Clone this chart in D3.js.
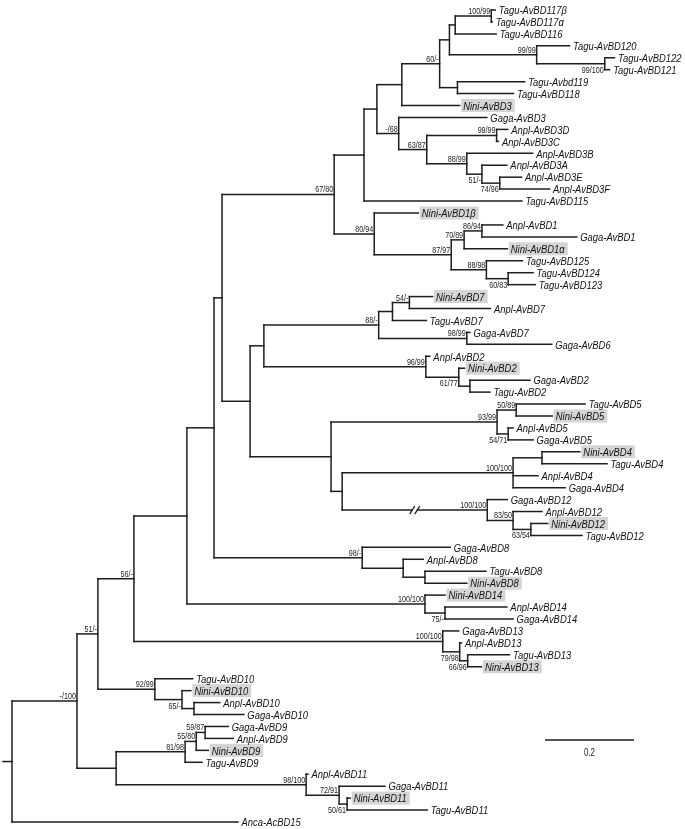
<!DOCTYPE html>
<html>
<head>
<meta charset="utf-8">
<script src="https://cdn.jsdelivr.net/npm/d3@7"></script>
<style>
  html, body { margin: 0; padding: 0; background: #fff; }
  svg { display: block; filter: grayscale(1); }
  .leaf { font-family: "Liberation Sans", Arial, sans-serif; font-style: italic; font-size: 11.8px; fill: #111; }
  .support { font-family: "Liberation Sans", Arial, sans-serif; font-size: 9px; fill: #222; }
  .scale { font-family: "Liberation Sans", Arial, sans-serif; font-size: 10px; fill: #222; }
</style>
</head>
<body>
<svg id="chart" width="685" height="829"></svg>
<script>
// ---------------- DATA (Newick clades; branch lengths in substitutions/site, internal labels = bootstrap NJ/ML) ----------------
const cladeAvBD3 =
  "((((((((Tagu-AvBD117β:0.009,Tagu-AvBD117α:0.002)100/99:0.081,Tagu-AvBD116:0.092):0.013," +
  "(Tagu-AvBD120:0.074,(Tagu-AvBD122:0.022,Tagu-AvBD121:0.011)99/100:0.153)99/99:0.196):0.022," +
  "(Tagu-Avbd119:0.151,Tagu-AvBD118:0.126):0.040)60/-:0.085,Nini-AvBD3:0.130):0.056," +
  "(Gaga-AvBD3:0.198,((Anpl-AvBD3D:0.025,Anpl-AvBD3C:0.004)99/99:0.157," +
  "(Anpl-AvBD3B:0.148,(Anpl-AvBD3A:0.056,(Anpl-AvBD3E:0.049,Anpl-AvBD3F:0.112)74/96:0.040)51/-:0.034)88/99:0.090)63/87:0.063)-/68:0.049):0.029," +
  "Tagu-AvBD115:0.355):0.067)";
const cladeAvBD1 =
  "(Nini-AvBD1β:0.099,(((Anpl-AvBD1:0.047,Gaga-AvBD1:0.213)86/94:0.040,Nini-AvBD1α:0.097)70/89:0.029," +
  "(Tagu-AvBD125:0.081,(Tagu-AvBD124:0.056,Tagu-AvBD123:0.061)60/83:0.049)88/98:0.079)87/97:0.173)80/94:0.090";
const cladeAvBD7_2 =
  "((((Nini-AvBD7:0.052,Anpl-AvBD7:0.182)54/-:0.038,Tagu-AvBD7:0.076):0.031,(Gaga-AvBD7:0.007,Gaga-AvBD6:0.191)98/99:0.198)88/-:0.258," +
  "(Anpl-AvBD2:0.009,(Nini-AvBD2:0.013,(Gaga-AvBD2:0.135,Tagu-AvBD2:0.045):0.025)61/77:0.074)96/99:0.364):0.031";
const cladeAvBD5_4_12 =
  "(((Tagu-AvBD5:0.155,Nini-AvBD5:0.081)50/89:0.043,(Anpl-AvBD5:0.011,Gaga-AvBD5:0.056)54/71:0.025)93/99:0.373," +
  "(((Nini-AvBD4:0.085,Tagu-AvBD4:0.146):0.065,Anpl-AvBD4:0.056,Gaga-AvBD4:0.117)100/100:0.384," +
  "(Gaga-AvBD12:0.045,(Anpl-AvBD12:0.065,(Nini-AvBD12:0.038,Tagu-AvBD12:0.115)63/54:0.040)83/50:0.058)100/100:0.326):0.025):0.182";
const cladeAvBD8 =
  "(Gaga-AvBD8:0.198,(Anpl-AvBD8:0.045,(Tagu-AvBD8:0.137,Nini-AvBD8:0.094):0.049):0.092)98/-:0.333";
const cladeAvBD14 =
  "(Nini-AvBD14:0.045,(Anpl-AvBD14:0.139,Gaga-AvBD14:0.153)75/-:0.045)100/100:0.535";
const cladeAvBD13 =
  "(Gaga-AvBD13:0.036,(Anpl-AvBD13:0.004,(Tagu-AvBD13:0.094,Nini-AvBD13:0.031)66/96:0.018)79/98:0.038)100/100:0.694";
const cladeAvBD10 =
  "(Tagu-AvBD10:0.085,(Nini-AvBD10:0.020,(Anpl-AvBD10:0.058,Gaga-AvBD10:0.112):0.027)65/-:0.061)92/99:0.128";
const cladeAvBD9 =
  "(((Gaga-AvBD9:0.052,Anpl-AvBD9:0.063)59/87:0.020,Nini-AvBD9:0.027)55/80:0.025,Tagu-AvBD9:0.038)81/98:0.155";
const cladeAvBD11 =
  "(Anpl-AvBD11:0.004,(Gaga-AvBD11:0.103,(Nini-AvBD11:0.007,Tagu-AvBD11:0.180)50/61:0.018)72/91:0.074)98/100:0.427";
const outgroup = "Anca-AcBD15:0.508";

const scaleBarValue = 0.2;
const scaleBarLabel = "0.2";

// assemble full tree
const newick =
  "(((((((((" + cladeAvBD3 + "," + cladeAvBD1 + ")67/80:0.252," +
  "(" + cladeAvBD7_2 + "," + cladeAvBD5_4_12 + "):0.063):0.018," + cladeAvBD8 + "):0.061," +
  cladeAvBD14 + "):0.119," + cladeAvBD13 + ")56/-:0.081," + cladeAvBD10 + ")51/-:0.047," +
  "(" + cladeAvBD9 + "," + cladeAvBD11 + "):0.088)-/100:0.146," + outgroup + ");";

// ---------------- LAYOUT ----------------
const belowSupportNodes = ["Anpl-AvBD3A","Anpl-AvBD3E","Nini-AvBD2","Tagu-AvBD124","Anpl-AvBD5",
  "Nini-AvBD12","Anpl-AvBD14","Anpl-AvBD13","Tagu-AvBD13","Nini-AvBD10","Nini-AvBD11","Tagu-AvBD122"];
const brokenBranchLeaf = "Gaga-AvBD12";
const condense = 0.8;

function parseNewick(s) {
  let i = 0;
  function node() {
    const n = {};
    if (s[i] === "(") {
      n.children = [];
      i++;
      n.children.push(node());
      while (s[i] === ",") { i++; n.children.push(node()); }
      i++;
    }
    let name = "";
    while (i < s.length && !":,);".includes(s[i])) name += s[i++];
    n.name = name.trim();
    n.length = 0;
    if (s[i] === ":") {
      i++;
      let num = "";
      while (i < s.length && !",);".includes(s[i])) num += s[i++];
      n.length = +num;
    }
    return n;
  }
  return node();
}

const root = d3.hierarchy(parseNewick(newick));
root.each(d => { d.dist = d.parent ? d.parent.dist + d.data.length : 0; });
const leaves = root.leaves();

const x = d3.scaleLinear().domain([0, 1]).range([12, 457]);
const y = d3.scaleLinear().domain([0, leaves.length - 1]).range([10, 822]);

leaves.forEach((l, i) => { l.yy = y(i); });
root.eachAfter(d => {
  if (d.children) d.yy = (d.children[0].yy + d.children[d.children.length - 1].yy) / 2;
  d.xx = x(d.dist);
});

const svg = d3.select("#chart");
svg.append("rect").attr("width", 685).attr("height", 829).attr("fill", "#fff");
const gLines = svg.append("g").attr("stroke", "#1e1e1e").attr("stroke-width", 1.5).attr("fill", "none").attr("stroke-linecap", "square");

// horizontal branches
root.descendants().filter(d => d.parent).forEach(d => {
  gLines.append("line").attr("x1", d.parent.xx).attr("x2", d.xx).attr("y1", d.yy).attr("y2", d.yy);
});
// vertical connectors
root.descendants().filter(d => d.children).forEach(d => {
  const c = d.children;
  gLines.append("line").attr("x1", d.xx).attr("x2", d.xx).attr("y1", c[0].yy).attr("y2", c[c.length - 1].yy);
});
// root stub
gLines.append("line").attr("x1", x(0) - 9).attr("x2", x(0)).attr("y1", root.yy).attr("y2", root.yy);

// broken branch marker
root.descendants().filter(d => d.children && d.leaves()[0].data.name === brokenBranchLeaf && d.data.name).forEach(d => {
  const mx = (d.parent.xx + d.xx) / 2, my = d.yy;
  svg.append("rect").attr("x", mx - 2).attr("y", my - 2).attr("width", 4).attr("height", 4).attr("fill", "#fff");
  [-2.5, 2.5].forEach(o => {
    svg.append("line").attr("x1", mx + o - 2.5).attr("y1", my + 4).attr("x2", mx + o + 2.5).attr("y2", my - 4)
      .attr("stroke", "#1e1e1e").attr("stroke-width", 1.3);
  });
});

// leaf labels
const gLeaf = svg.append("g");
leaves.forEach(l => {
  const name = l.data.name;
  const tx = l.xx + 3.5, ty = l.yy;
  const t = gLeaf.append("text").attr("class", "leaf")
    .attr("transform", `translate(${tx},${ty}) scale(${condense},1)`)
    .attr("dy", "0.36em").text(name);
  if (name.startsWith("Nini")) {
    const w = t.node().getComputedTextLength() * condense;
    gLeaf.insert("rect", "text").attr("x", l.xx + 1.5).attr("y", l.yy - 6.5).attr("width", w + 5).attr("height", 13)
      .attr("fill", "#d5d5d5");
  }
});
gLeaf.selectAll("text").raise();

// support labels
const gSup = svg.append("g");
root.descendants().filter(d => d.children && d.data.name).forEach(d => {
  const below = belowSupportNodes.includes(d.leaves()[0].data.name);
  gSup.append("text").attr("class", "support").attr("text-anchor", "end")
    .attr("transform", `translate(${d.xx - 1},${below ? d.yy + 9 : d.yy - 2}) scale(${condense},1)`)
    .text(d.data.name);
});

// scale bar
const sbx = 545, sby = 740;
const sbw = x(scaleBarValue) - x(0);
svg.append("line").attr("x1", sbx).attr("x2", sbx + sbw).attr("y1", sby).attr("y2", sby)
  .attr("stroke", "#1e1e1e").attr("stroke-width", 1.5);
svg.append("text").attr("class", "scale").attr("text-anchor", "middle")
  .attr("transform", `translate(${sbx + sbw / 2},${sby + 16}) scale(${condense},1)`).text(scaleBarLabel);
</script>
</body>
</html>
